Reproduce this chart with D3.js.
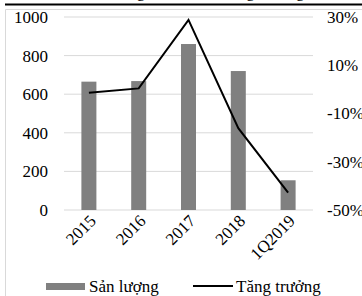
<!DOCTYPE html>
<html>
<head>
<meta charset="utf-8">
<script src="https://cdn.jsdelivr.net/npm/d3@7"></script>
<style>
  body { margin: 0; background: #fff; }
  svg { display: block; }
  svg text { font-family: "Liberation Serif", "Times New Roman", serif; font-size: 17px; fill: #000; }
</style>
</head>
<body>
<svg width="362" height="296"></svg>
<script>
// chart data
var categories = ["2015", "2016", "2017", "2018", "1Q2019"];
var sanLuong = [665, 668, 860, 720, 154];
var tangTruong = [-1.4, 0.4, 28.8, -16.1, -42.8];
var leftTicks = [0, 200, 400, 600, 800, 1000];
var rightTicks = [-50, -30, -10, 10, 30];

document.addEventListener('DOMContentLoaded', function () {
    const svg = d3.select('svg');
    const margin = { top: 17, left: 64, right: 49, bottom: 86 };
    const width = 362, height = 296;
    const innerWidth = width - margin.left - margin.right;
    const innerHeight = height - margin.top - margin.bottom;

    // title is cut off above the black rule, only descenders show
    svg.append('text')
        .attr('x', 190).attr('y', -3)
        .attr('text-anchor', 'middle')
        .text('Sản lượng tiêu thụ và tăng trưởng');
    svg.append('line')
        .attr('x1', 5).attr('x2', 362).attr('y1', 4.5).attr('y2', 4.5)
        .attr('stroke', '#000').attr('stroke-width', 2);
    // chart frame
    svg.append('path')
        .attr('d', 'M5.5,296 V9.5 H362')
        .attr('fill', 'none').attr('stroke', '#d9d9d9');

    const g = svg.append('g')
        .attr('transform', 'translate(' + margin.left + ',' + margin.top + ')');

    const xScale = d3.scaleBand().domain(categories).range([0, innerWidth]);
    const yLeft = d3.scaleLinear().domain([0, 1000]).range([innerHeight, 0]);
    const yRight = d3.scaleLinear().domain([-50, 30]).range([innerHeight, 0]);

    // gridlines
    g.selectAll('.grid').data(leftTicks).join('line')
        .attr('class', 'grid')
        .attr('x1', 0).attr('x2', innerWidth)
        .attr('y1', d => yLeft(d)).attr('y2', d => yLeft(d))
        .attr('stroke', '#d9d9d9').attr('stroke-width', 1);

    // left axis
    const yAxisL = d3.axisLeft(yLeft).tickValues(leftTicks).tickFormat(d => d).tickSize(0).tickPadding(16);
    g.append('g').call(yAxisL)
        .attr('font-family', null).attr('font-size', null)
        .call(a => a.select('.domain').remove());

    // right axis
    const yAxisR = d3.axisRight(yRight).tickValues(rightTicks)
        .tickFormat(d => d + '%').tickSize(0).tickPadding(14);
    g.append('g').attr('transform', 'translate(' + innerWidth + ',0)').call(yAxisR)
        .attr('font-family', null).attr('font-size', null)
        .call(a => a.select('.domain').remove());

    // bars
    const barW = 15;
    g.selectAll('.bar').data(sanLuong).join('rect')
        .attr('class', 'bar')
        .attr('x', (d, i) => xScale(categories[i]) + xScale.bandwidth() / 2 - barW / 2)
        .attr('width', barW)
        .attr('y', d => yLeft(d))
        .attr('height', d => innerHeight - yLeft(d))
        .attr('fill', '#808080');

    // line
    g.append('path')
        .datum(tangTruong)
        .attr('fill', 'none')
        .attr('stroke', '#000')
        .attr('stroke-width', 2)
        .attr('d', d3.line()
            .x((d, i) => xScale(categories[i]) + xScale.bandwidth() / 2)
            .y(d => yRight(d)));

    // x labels, rotated
    g.selectAll('.xlab').data(categories).join('text')
        .attr('class', 'xlab')
        .attr('text-anchor', 'end')
        .attr('transform', d => 'translate(' + (xScale(d) + xScale.bandwidth() / 2 + 8) + ',' + (innerHeight + 12) + ') rotate(-45)')
        .text(d => d);

    // legend
    const lg = svg.append('g');
    lg.append('rect').attr('x', 46).attr('y', 283).attr('width', 39).attr('height', 7).attr('fill', '#808080');
    lg.append('text').attr('x', 89).attr('y', 292).text('Sản lượng');
    lg.append('line').attr('x1', 193).attr('x2', 233).attr('y1', 286).attr('y2', 286)
        .attr('stroke', '#000').attr('stroke-width', 2);
    lg.append('text').attr('x', 236).attr('y', 292).text('Tăng trưởng');
});
</script>
</body>
</html>
